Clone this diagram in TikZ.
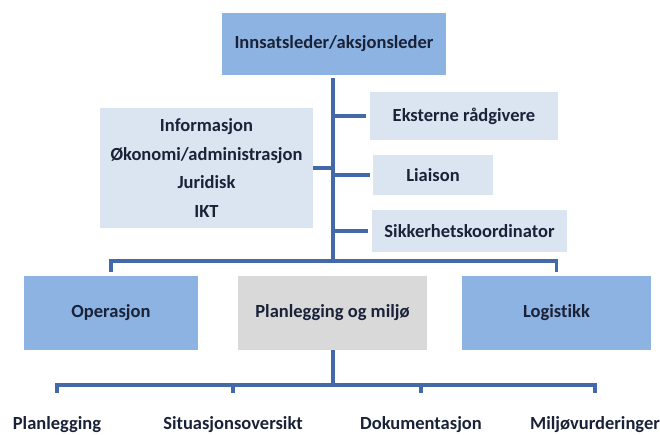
\documentclass[tikz,border=0pt]{standalone}
\usepackage{fontspec}
\setmainfont{Carlito}[Ligatures=NoCommon]
\definecolor{boxdark}{HTML}{8DB3E2}
\definecolor{boxlight}{HTML}{DBE5F1}
\definecolor{boxgrey}{HTML}{D9D9D9}
\definecolor{linkblue}{HTML}{4369A8}
\definecolor{textnavy}{HTML}{1A2238}
\tikzset{
  orgbox/.style={inner sep=0pt, text=textnavy, font=\bfseries\fontsize{18.5}{28.5}\selectfont, align=center},
  darkbox/.style={orgbox, fill=boxdark},
  lightbox/.style={orgbox, fill=boxlight},
  greybox/.style={orgbox, fill=boxgrey},
  leaflabel/.style={text=textnavy, font=\bfseries\fontsize{18.5}{20}\selectfont, anchor=base, inner sep=0pt},
  link/.style={draw=linkblue, line width=3.2pt}
}
\begin{document}
\begin{tikzpicture}[x=1pt,y=-1pt]
  \useasboundingbox (0,0) rectangle (660,435);

  % Top level
  \node [darkbox, minimum width=224pt, minimum height=62pt] (leder) at (334,44) {Innsatsleder/aksjonsleder};

  % Staff functions
  \node [lightbox, minimum width=213pt, minimum height=120pt] (stab) at (206.5,168)
        {Informasjon\\Økonomi/administrasjon\\Juridisk\\IKT};
  \node [lightbox, minimum width=188pt, minimum height=48pt] (ekstern) at (464,116) {Eksterne rådgivere};
  \node [lightbox, minimum width=120pt, minimum height=40pt] (liaison) at (433,175) {Liaison};
  \node [lightbox, minimum width=195pt, minimum height=42pt] (sikkerhet) at (469.5,231) {Sikkerhetskoordinator};

  % Sections
  \node [darkbox, minimum width=174pt, minimum height=74pt] (operasjon) at (111,313) {Operasjon};
  \node [greybox, minimum width=189pt, minimum height=74pt] (planmiljo) at (332.5,313) {Planlegging og miljø};
  \node [darkbox, minimum width=189pt, minimum height=74pt] (logistikk) at (556.5,313) {Logistikk};

  % Sub units
  \node [leaflabel] (planlegging) at (57,429) {Planlegging};
  \node [leaflabel] (situasjon) at (233,429) {Situasjonsoversikt};
  \node [leaflabel] (dokument) at (421,429) {Dokumentasjon};
  \node [leaflabel] (miljo) at (595,429) {Miljøvurderinger};

  \coordinate (hub) at (333,261);
  \coordinate (subhub) at (333,385);

  % Trunk and staff links
  \draw [link] ([yshift=-3pt]leder.south -| hub) -- (hub);
  \draw [link] (stab.east) -- (stab.east -| hub);
  \draw [link] (ekstern.west -| hub) -- ([xshift=-4pt]ekstern.west);
  \draw [link] (liaison.west -| hub) -- ([xshift=-3pt]liaison.west);
  \draw [link] (sikkerhet.west -| hub) -- ([xshift=-4pt]sikkerhet.west);

  % Section bus
  \draw [link] ([yshift=4pt]operasjon.north) |- (hub) -| ([yshift=4pt]logistikk.north);

  % Sub unit bus
  \draw [link] (planmiljo.south -| subhub) -- (subhub);
  \draw [link] ([yshift=23pt]planlegging.north) |- (subhub) -| ([yshift=23pt]miljo.north);
  \draw [link] ([yshift=23pt]situasjon.north) -- (situasjon.north |- subhub);
  \draw [link] ([yshift=23pt]dokument.north) -- (dokument.north |- subhub);
\end{tikzpicture}
\end{document}
